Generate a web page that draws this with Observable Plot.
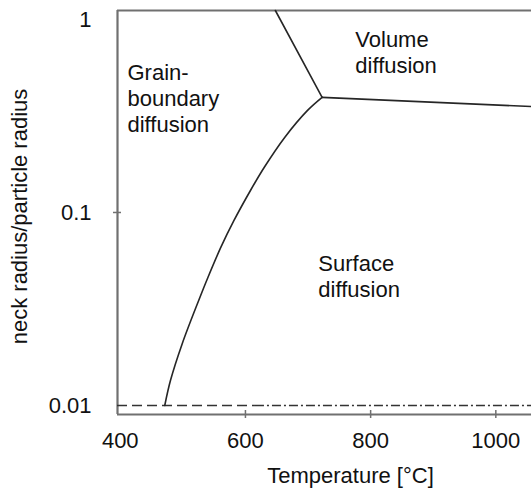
<!DOCTYPE html>
<html>
<head>
<meta charset="utf-8">
<script src="https://cdn.jsdelivr.net/npm/d3@7"></script>
<script src="https://cdn.jsdelivr.net/npm/@observablehq/plot@0.6"></script>
<style>
  html, body { margin: 0; padding: 0; background: #fff; }
</style>
</head>
<body>
<div id="chart"></div>
<script>
// ---- data ----
const tempDomain = [395.6, 1057];
const ratioDomain = [0.00898, 1.113];

const xTickValues = [400, 600, 800, 1000];
const xTickMarks = [600, 800, 1000];
const yTickValues = [0.01, 0.1, 1];
const yTickMarks = [0.1];

// grain-boundary / volume boundary
const gbVolT = [647.8, 722.5];
const gbVolR = [1.113, 0.395];
// volume / surface boundary
const volSurfT = [722.5, 1057];
const volSurfR = [0.395, 0.354];
// grain-boundary / surface boundary
const gbSurfT = [471.1, 480.3, 499.0, 525.3, 540.2, 560.8, 581.7, 608.0, 630.4, 663.0, 699.2, 722.5];
const gbSurfR = [0.0100, 0.0135, 0.0209, 0.0350, 0.0462, 0.0661, 0.0909, 0.130, 0.172, 0.2455, 0.338, 0.395];

// horizontal limit at 0.01
const limitLevel = 0.01;
const dashedT = [395.6, 616];
const dashDotT = [616, 1057];

// region labels
const regionNames = ["Grain-\nboundary\ndiffusion", "Volume\ndiffusion", "Surface\ndiffusion"];
const regionT = [411.5, 775.5, 716.5];
const regionR = [0.394, 0.683, 0.0472];

const xLabel = "Temperature [°C]";
const yLabel = "neck radius/particle radius";

// ---- build ----
const toPts = (T, R) => T.map((t, i) => ({t, r: R[i]}));
const regions = regionNames.map((name, i) => ({name, t: regionT[i], r: regionR[i]}));

const lineColor = "#262626";
const frameColor = "#707070";

const chart = Plot.plot({
  width: 531,
  height: 489,
  marginTop: 10,
  marginRight: 0,
  marginBottom: 75,
  marginLeft: 117,
  style: {fontFamily: "'Liberation Sans', Arial, Helvetica, sans-serif", fontSize: "22px", color: "#111", background: "#fff"},
  x: {domain: tempDomain},
  y: {type: "log", domain: ratioDomain},
  marks: [
    // frame (left, top, bottom)
    Plot.ruleX([tempDomain[0]], {stroke: frameColor, strokeWidth: 2.2}),
    Plot.ruleY(ratioDomain, {stroke: frameColor, strokeWidth: 2.2}),
    // axes: labels
    Plot.axisX(xTickValues, {tickSize: 0, tickPadding: 18, label: null, tickFormat: d => String(d), fill: "#111"}),
    Plot.axisY(yTickValues, {tickSize: 0, tickPadding: 26, label: null, tickFormat: d => String(d), fill: "#111"}),
    // crossing tick marks
    Plot.axisX(xTickMarks, {tickSize: 4, text: null, label: null, stroke: frameColor, strokeWidth: 1.5}),
    Plot.axisX(xTickMarks, {tickSize: 4, text: null, label: null, dy: -4, stroke: frameColor, strokeWidth: 1.5}),
    Plot.axisY(yTickMarks, {tickSize: 4, text: null, label: null, stroke: frameColor, strokeWidth: 1.5}),
    Plot.axisY(yTickMarks, {tickSize: 4, text: null, label: null, dx: 4, stroke: frameColor, strokeWidth: 1.5}),
    // 0.01 limit
    Plot.ruleY([limitLevel], {x1: dashedT[0], x2: dashedT[1], stroke: "#333", strokeWidth: 1.6, strokeDasharray: "10,5"}),
    Plot.ruleY([limitLevel], {x1: dashDotT[0], x2: dashDotT[1], stroke: "#333", strokeWidth: 1.6, strokeDasharray: "9,3,2,3"}),
    // boundaries
    Plot.line(toPts(gbVolT, gbVolR), {x: "t", y: "r", stroke: lineColor, strokeWidth: 1.6}),
    Plot.line(toPts(volSurfT, volSurfR), {x: "t", y: "r", stroke: lineColor, strokeWidth: 1.6}),
    Plot.line(toPts(gbSurfT, gbSurfR), {x: "t", y: "r", stroke: lineColor, strokeWidth: 1.6, curve: "catmull-rom"}),
    // region labels
    Plot.text(regions, {x: "t", y: "r", text: "name", textAnchor: "start", lineAnchor: "middle", lineHeight: 1.2, fill: "#111"}),
    // axis titles
    Plot.text([xLabel], {frameAnchor: "bottom", textAnchor: "middle", dx: 26, dy: 61, lineAnchor: "middle", fill: "#111"}),
    Plot.text([yLabel], {frameAnchor: "left", textAnchor: "middle", lineAnchor: "middle", rotate: -90, dx: -98, dy: 4, fill: "#111"})
  ]
});
document.getElementById("chart").appendChild(chart);
</script>
</body>
</html>
